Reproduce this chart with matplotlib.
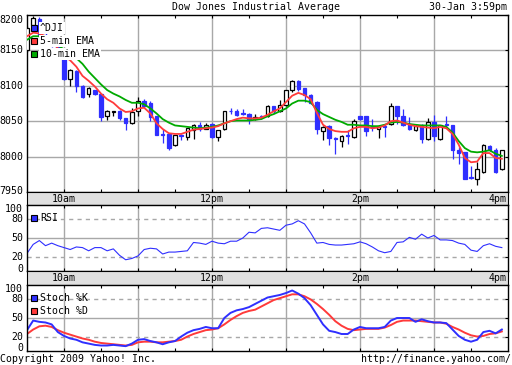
import matplotlib
matplotlib.use('Agg')
import matplotlib.pyplot as plt
from matplotlib.patches import Rectangle
import numpy as np

plt.rcParams['font.family'] = 'DejaVu Sans Mono'
plt.rcParams['font.size'] = 7.1

W, H = 512, 365
BLUE = '#2f2fff'
RED = '#ff3a3a'
GREEN = '#00aa00'
GRID = '#a8a8a8'
STRIP = '#e0e0e0'

# 5-minute candles, 9:30 .. 15:55
opens = [8151, 8186, 8194, 8172, 8165, 8156, 8138, 8110, 8121, 8100,
         8088, 8094, 8088, 8057, 8063, 8065, 8055, 8047, 8064, 8078,
         8076, 8057, 8031.5, 8032, 8016, 8031, 8028, 8037, 8044, 8039.5,
         8046.5, 8027, 8038.5, 8065, 8064.4, 8061, 8059.7, 8052.6, 8057, 8057,
         8071, 8064.4, 8072.4, 8093.6, 8107, 8097, 8086.5, 8077, 8035.7, 8043,
         8026, 8021.5, 8030.5, 8027.7, 8057, 8057, 8043, 8038.5, 8043.5, 8046.5,
         8071, 8058, 8046.5, 8037, 8045, 8025, 8049, 8025, 8046, 8044,
         8009, 8006.5, 7970.5, 7968.8, 7978, 8015, 8009, 7982]
highs = [8185, 8198, 8197, 8174, 8167, 8158, 8140, 8124, 8122, 8101,
         8099, 8094, 8089, 8066, 8064.5, 8066, 8055, 8068, 8084, 8082,
         8078, 8058, 8039, 8033, 8031, 8032, 8041, 8046, 8049, 8047.5,
         8047, 8038, 8065, 8068.6, 8067, 8066.8, 8062, 8060.6, 8059, 8073,
         8072, 8079.5, 8094, 8108, 8108, 8097.5, 8088, 8078, 8043, 8044,
         8027, 8030, 8037, 8052.6, 8058, 8058, 8052.6, 8044, 8044, 8076,
         8072, 8066.8, 8056, 8046.5, 8046, 8054.5, 8058.3, 8045, 8057.3, 8045,
         8013.6, 8007, 7986.7, 7992, 8018, 8016, 8012, 8010]
lows = [8148, 8184, 8170, 8163, 8155, 8138, 8108, 8100, 8091, 8083,
        8084, 8087, 8050, 8051, 8058, 8052, 8037, 8046, 8057, 8070,
        8050, 8030, 8019, 8009, 8015, 8023, 8023, 8025, 8036, 8038.5,
        8026, 8022, 8038, 8060.6, 8058, 8058.3, 8046.5, 8052, 8053.6, 8056,
        8062, 8063, 8072, 8091, 8092.6, 8077, 8075, 8032, 8023, 8016,
        8004, 8013.6, 8018, 8026, 8052, 8028.6, 8035.7, 8026, 8027.7, 8045,
        8046.5, 8043, 8038, 8036, 8019.7, 8024, 8021.5, 8024, 8042, 7997,
        7990, 7968, 7968.8, 7960.4, 7977, 8008, 7977, 7981]
closes = [8181, 8196, 8172, 8165, 8158, 8140, 8110, 8122, 8100, 8084,
          8097, 8088, 8056, 8064, 8064, 8054, 8047, 8063, 8078, 8072,
          8056, 8031, 8030.5, 8012, 8030, 8029, 8040, 8044, 8038.5, 8044,
          8027, 8037, 8064, 8064, 8059, 8060.5, 8052.6, 8056, 8056, 8071,
          8064, 8072.4, 8093.6, 8106.8, 8096, 8086.5, 8076, 8038.5, 8041.8, 8026.7,
          8025, 8029, 8029.5, 8049.8, 8053.6, 8035.7, 8042, 8042.8, 8042.5, 8071,
          8057, 8044, 8039.5, 8043, 8025, 8049, 8028.6, 8044, 8044, 8009,
          8005.6, 7969, 7969.8, 7983, 8016, 8009, 7978, 8009]

ema5 = [8170, 8175, 8174, 8170, 8163, 8153, 8142, 8136, 8127, 8114,
        8107, 8099, 8089, 8081, 8076, 8068, 8063, 8064, 8068, 8069,
        8061, 8047, 8039, 8033, 8032, 8032, 8035, 8038, 8039, 8040,
        8041, 8043, 8047, 8050, 8053, 8055, 8054, 8054, 8055, 8059,
        8064, 8068, 8077, 8086, 8090, 8087, 8081, 8062, 8045, 8039,
        8036, 8035, 8035, 8040, 8042, 8042, 8040, 8041, 8044, 8050,
        8051, 8048, 8045, 8043, 8042, 8041, 8040, 8042, 8040, 8032,
        8017, 7998, 7992, 7993, 8005, 8005, 7998, 7997]
ema10 = [8165, 8170, 8170, 8167, 8163, 8158, 8151, 8145, 8139, 8131,
         8120, 8111, 8102, 8094, 8089, 8085, 8080, 8076, 8076, 8074,
         8068, 8061, 8053, 8048, 8044, 8043, 8042, 8041, 8040, 8041,
         8042, 8044, 8047, 8050, 8051, 8051, 8051, 8052, 8053, 8057,
         8060, 8064, 8068, 8075, 8079, 8079, 8077, 8066, 8060, 8056,
         8052, 8049, 8045, 8045, 8044, 8044, 8043, 8043, 8045, 8048,
         8049, 8048, 8046, 8045, 8044, 8044, 8044, 8044, 8042, 8034,
         8022, 8012, 8007, 8006, 8007, 8009, 8004, 8001]

rsi = [26, 40, 46, 38, 42, 38, 35, 32, 36, 35,
       30, 35, 35, 30, 33, 23, 16, 18, 22, 32,
       34, 33, 25, 28, 28, 29, 30, 43, 42, 40,
       45, 42, 41, 45, 45, 50, 59, 58, 65, 66,
       64, 62, 70, 72, 77, 72, 58, 42, 43, 40,
       39, 39, 40, 41, 44, 41, 36, 30, 27, 29,
       43, 44, 51, 48, 56, 50, 54, 47, 47, 46,
       42, 40, 31, 29, 38, 41, 37, 35]

stoch_k = [31, 46, 44, 43, 40, 28, 22, 18, 16, 12,
           10, 8, 7, 7, 8, 7, 6, 10, 16, 17,
           14, 12, 9, 12, 14, 21, 27, 31, 33, 36,
           34, 34, 50, 58, 62, 64, 67, 72, 77, 82,
           84, 86, 89, 93, 88, 81, 70, 55, 40, 30,
           28, 25, 25, 32, 36, 34, 34, 34, 36, 46,
           50, 50, 50, 44, 48, 45, 43, 43, 42, 32,
           22, 16, 13, 16, 28, 30, 26, 32]
stoch_d = [25, 32, 37, 38, 36, 31, 27, 24, 21, 18,
           16, 13, 11, 10, 9, 8, 7, 8, 12, 13,
           13, 12, 12, 13, 14, 16, 21, 25, 28, 31,
           32, 34, 40, 47, 53, 58, 61, 63, 68, 73,
           78, 81, 84, 87, 87, 84, 79, 72, 64, 55,
           45, 38, 33, 31, 32, 33, 33, 33, 35, 39,
           44, 46, 46, 46, 45, 44, 43, 43, 41, 36,
           32, 27, 23, 21, 22, 25, 26, 29]

price_ticks = [7950, 8000, 8050, 8100, 8150, 8200]
osc_ticks = [0, 20, 50, 80, 100]
hour_pos = [30, 150, 270, 390]
hour_labels = ['10am', '12pm', '2pm', '4pm']

minutes = np.arange(len(opens)) * 5


def box(x0, y0, x1, y1):
    return [x0 / W, 1 - y1 / H, (x1 - x0) / W, (y1 - y0) / H]


def style_panel(ax, yticks):
    ax.set_xlim(0, 390)
    ax.set_xticks(np.arange(30, 390, 30))
    ax.set_yticks(yticks)
    ax.tick_params(axis='x', direction='in', top=True, bottom=True,
                   length=2.5, width=0.8, labelbottom=False)
    ax.tick_params(axis='y', direction='in', left=False, right=True,
                   length=2.5, width=0.8, labelleft=False)
    for s in ax.spines.values():
        s.set_linewidth(1.0)
    for h in range(30, 390, 60):
        ax.axvline(h, color=GRID, lw=1, zorder=0)


def ylabels(ax, ticks, nudge):
    # nudge: small shifts for labels sitting on the panel edges
    tr = ax.get_yaxis_transform()
    for t in ticks:
        ax.text(-0.008, t + nudge.get(t, 0), str(t), transform=tr,
                ha='right', va='center')


def strip(rect):
    ax = fig.add_axes(rect)
    ax.set_facecolor(STRIP)
    ax.set_xlim(0, 390)
    ax.set_ylim(0, 1)
    ax.set_xticks([])
    ax.set_yticks([])
    for p, s in zip(hour_pos, hour_labels):
        if p == 390:
            ax.text(p - 1, 0.5, s, ha='right', va='center')
        else:
            ax.text(p, 0.5, s, ha='center', va='center')
    return ax


def legend_item(x, y, color, label, white=False):
    fig.add_artist(Rectangle((x / W, 1 - (y + 3) / H), 6 / W, 6 / H,
                             transform=fig.transFigure, facecolor=color,
                             edgecolor='black', lw=0.8, zorder=10))
    kw = {}
    if white:
        kw['bbox'] = dict(facecolor='white', edgecolor='none', pad=0.4)
    fig.text((x + 9) / W, 1 - y / H, label, ha='left', va='center', zorder=10, **kw)


fig = plt.figure(figsize=(W / 100, H / 100), dpi=100)

# main price panel
ax = fig.add_axes(box(27, 15, 508, 192))
style_panel(ax, price_ticks)
ax.set_ylim(7950, 8200)
for v in price_ticks[1:-1]:
    ax.axhline(v, color=GRID, lw=1, zorder=0)

for x, o, h, l, c in zip(minutes, opens, highs, lows, closes):
    up = c >= o
    col = 'black' if up else BLUE
    ax.vlines(x, l, h, color=col, lw=0.9, zorder=2)
    ax.bar(x, max(abs(c - o), 0.6), bottom=min(o, c), width=2.8,
           facecolor='white' if up else BLUE, edgecolor=col, lw=0.9, zorder=3)

ax.plot(minutes, ema10, color=GREEN, lw=1.3, zorder=4)
ax.plot(minutes, ema5, color=RED, lw=1.3, zorder=4)
ylabels(ax, price_ticks, {8200: -7, 7950: 2})

strip(box(27, 192, 508, 205))

# RSI panel
ax2 = fig.add_axes(box(27, 205, 508, 271))
style_panel(ax2, [20, 50, 80])
ax2.set_ylim(-1.56, 101.56)
ax2.axhline(50, color=GRID, lw=1, zorder=0)
for v in (20, 80):
    ax2.axhline(v, color=GRID, lw=1, ls=(0, (3, 3)), zorder=0)
ax2.plot(minutes, rsi, color=BLUE, lw=0.8)
ylabels(ax2, osc_ticks, {100: -5, 0: 2})

strip(box(27, 271, 508, 285))

# Stochastic panel
ax3 = fig.add_axes(box(27, 285, 508, 351))
style_panel(ax3, [20, 50, 80])
ax3.set_ylim(-1.56, 101.56)
ax3.axhline(50, color=GRID, lw=1, zorder=0)
for v in (20, 80):
    ax3.axhline(v, color=GRID, lw=1, ls=(0, (3, 3)), zorder=0)
ax3.plot(minutes, stoch_d, color=RED, lw=1.4)
ax3.plot(minutes, stoch_k, color=BLUE, lw=1.4)
ylabels(ax3, osc_ticks, {100: -5, 0: 2.5})

# legends
legend_item(31, 28, BLUE, '^DJI', white=True)
legend_item(31, 41, RED, '5-min EMA', white=True)
legend_item(31, 54, GREEN, '10-min EMA', white=True)
legend_item(31, 218, BLUE, 'RSI')
legend_item(31, 298, BLUE, 'Stoch %K')
legend_item(31, 311, RED, 'Stoch %D')

# header and footer
fig.text(256 / W, 1 - 7 / H, 'Dow Jones Industrial Average', ha='center', va='center')
fig.text(507 / W, 1 - 7 / H, '30-Jan 3:59pm', ha='right', va='center')
fig.text(0, 1 - 359.5 / H, 'Copyright 2009 Yahoo! Inc.', ha='left', va='center')
fig.text(511 / W, 1 - 359.5 / H, 'http://finance.yahoo.com/', ha='right', va='center')

fig.savefig('out.png', dpi=100, facecolor='white')
